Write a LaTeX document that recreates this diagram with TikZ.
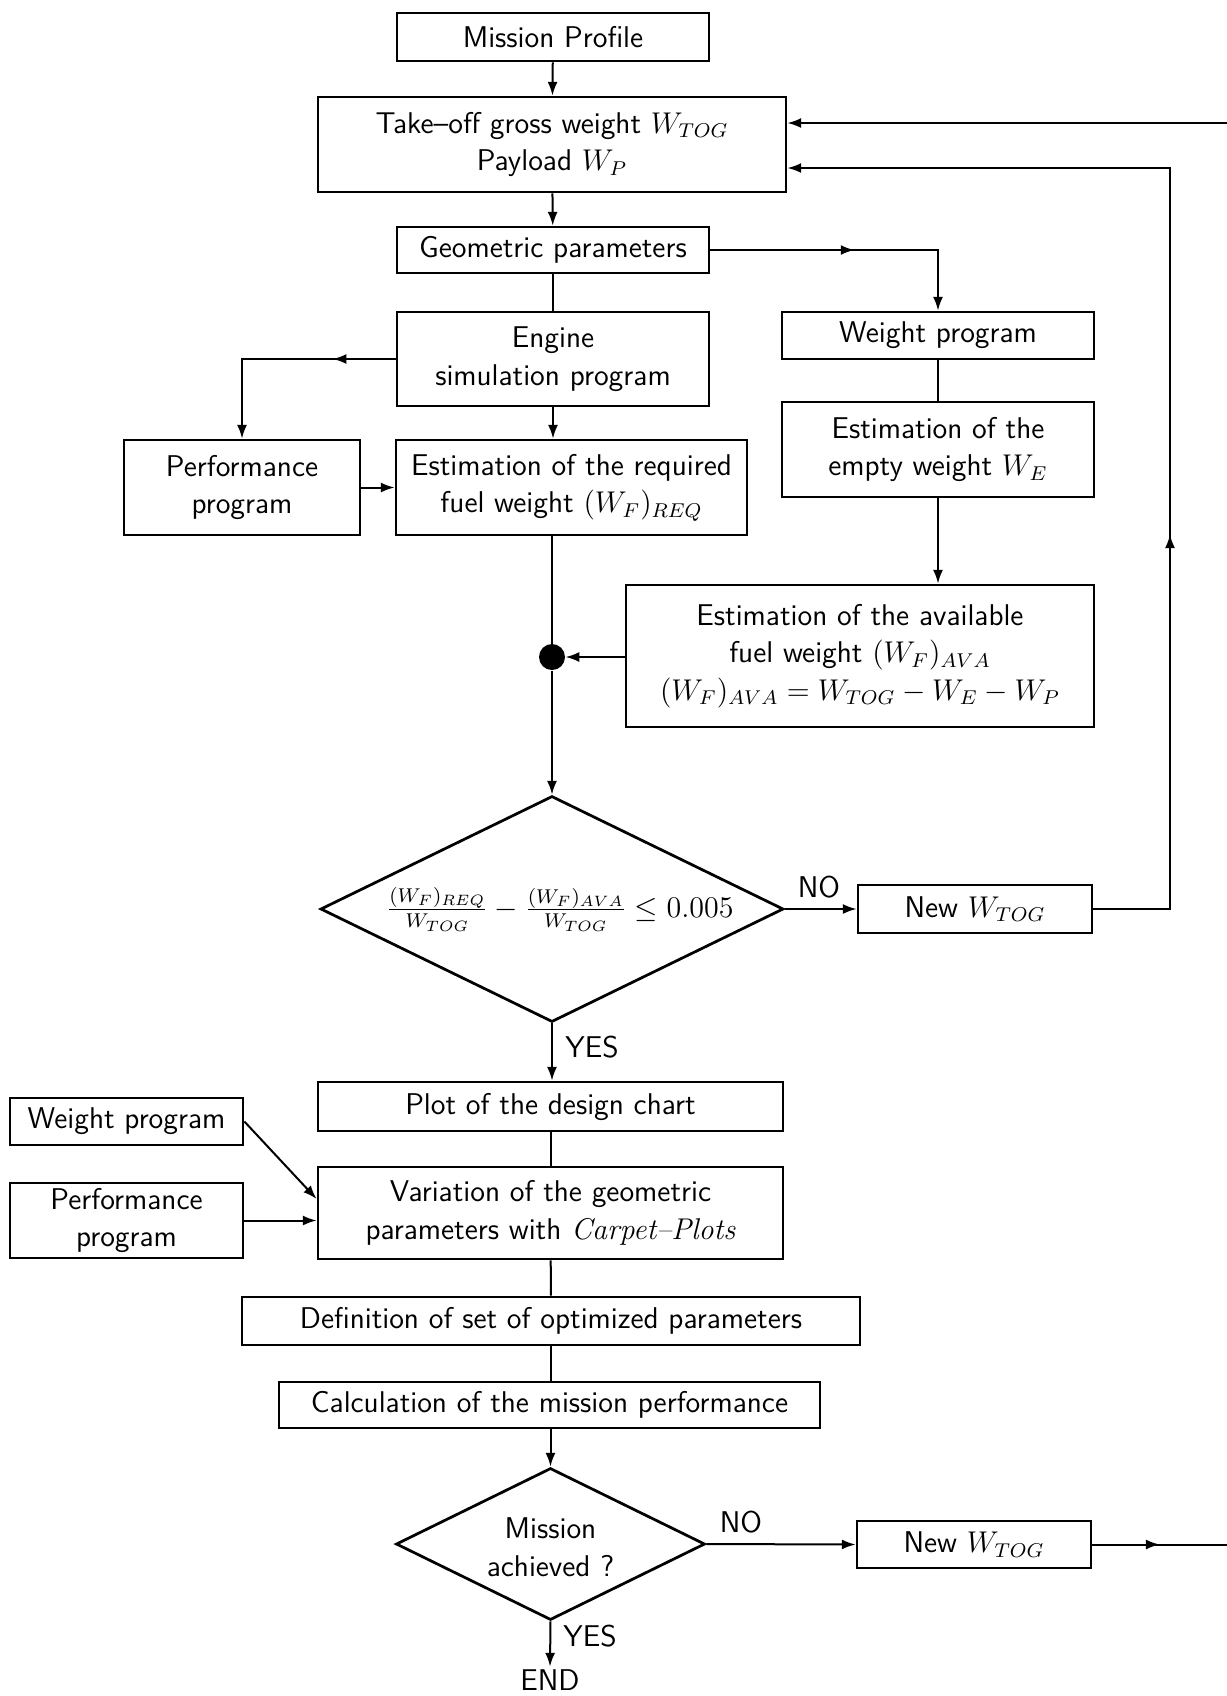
\documentclass[tikz,border=0pt]{standalone}
\usetikzlibrary{shapes.geometric,arrows.meta,decorations.markings}
\begin{document}
\begin{tikzpicture}[x=0.4pt,y=-0.4pt,
  font=\sffamily\fontsize{12}{15}\selectfont,
  box/.style={draw, line width=1.1pt, align=center, inner sep=0pt},
  conn/.style={line width=0.8pt},
  arr/.style={conn, -{Latex[length=5.5pt,width=4pt]}},
  midarrow/.style={postaction={decorate}, decoration={markings, mark=at position #1 with {\arrow{Latex[length=5.5pt,width=4pt]}}}},
  lbl/.style={inner sep=1pt}]
\useasboundingbox (0,0) rectangle (1227,1696);

% boxes
\node[box, minimum width=124.8pt, minimum height=19.2pt] (mission) at (553,37) {Mission Profile};
\node[box, minimum width=187.2pt, minimum height=38pt] (takeoff) at (552,144.5) {Take--off gross weight $W_{TOG}$\\Payload $W_P$};
\node[box, minimum width=124.8pt, minimum height=18.4pt] (geom) at (553,250) {Geometric parameters};
\node[box, minimum width=124.8pt, minimum height=37.6pt] (engine) at (553,359) {Engine\\simulation program};
\node[box, minimum width=124.8pt, minimum height=18.8pt] (weightR) at (938,335.5) {Weight program};
\node[box, minimum width=94.4pt, minimum height=38pt] (perf) at (242,487.5) {Performance\\program};
\node[box, minimum width=140.4pt, minimum height=38pt] (estreq) at (571.5,487.5) {Estimation of the required\\fuel weight $(W_F)_{REQ}$};
\node[box, minimum width=124.8pt, minimum height=38pt] (estempty) at (938,449.5) {Estimation of the\\empty weight $W_E$};
\node[box, minimum width=187.2pt, minimum height=56.8pt] (estava) at (860,656) {Estimation of the available\\fuel weight $(W_F)_{AVA}$\\$(W_F)_{AVA} = W_{TOG} - W_E - W_P$};
\node[circle, fill, inner sep=0pt, minimum size=10.4pt] (dot) at (552,657) {};

\node[diamond, draw, line width=1.1pt, inner sep=0pt, minimum width=185.2pt, minimum height=90.4pt] (d1) at (552,909) {};
\node[lbl] (d1t) at (560,909) {$\frac{(W_F)_{REQ}}{W_{TOG}} - \frac{(W_F)_{AVA}}{W_{TOG}} \le 0.005$};
\node[box, minimum width=93.6pt, minimum height=19.2pt] (new1) at (975,909) {New $W_{TOG}$};
\node[lbl] (no1) at (819,887) {NO};
\node[lbl] (yes1) at (592,1047) {YES};

\node[box, minimum width=186pt, minimum height=19.6pt] (plot) at (550.5,1106.5) {Plot of the design chart};
\node[box, minimum width=93.2pt, minimum height=18.8pt] (weightL) at (126.5,1121.5) {Weight program};
\node[box, minimum width=93.2pt, minimum height=30pt] (perf2) at (126.5,1220.5) {Performance\\program};
\node[box, minimum width=186pt, minimum height=36.8pt] (var) at (550.5,1213) {Variation of the geometric\\parameters with {\rmfamily\itshape Carpet--Plots}};
\node[box, minimum width=247.2pt, minimum height=19.2pt] (def) at (551,1321) {Definition of set of optimized parameters};
\node[box, minimum width=216.4pt, minimum height=18.4pt] (calc) at (549.5,1405) {Calculation of the mission performance};

\node[diamond, draw, line width=1.1pt, inner sep=0pt, minimum width=123.6pt, minimum height=60.8pt] (d2) at (550.5,1544) {};
\node[lbl, align=center] (d2t) at (550.5,1547) {Mission\\achieved ?};
\node[box, minimum width=93.6pt, minimum height=18.8pt] (new2) at (974,1544.5) {New $W_{TOG}$};
\node[lbl] (no2) at (741,1522) {NO};
\node[lbl] (yes2) at (590,1636) {YES};
\node[lbl] (endn) at (550,1680) {END};

\coordinate (fbturn) at (1170,168);
\coordinate (topin) at (1227,123);
\coordinate (exit) at (1227,1544.5);

% connectors
\draw[arr] (mission) -- (takeoff);
\draw[arr] (takeoff) -- (geom);
\draw[conn] (geom) -- (engine);
\draw[arr, midarrow=0.5] (geom.east) -| (weightR.north);
\draw[arr, midarrow=0.27] (engine.west) -| (perf.north);
\draw[arr] (engine) -- (engine |- estreq.north);
\draw[arr] (perf) -- (estreq);
\draw[conn] (weightR) -- (estempty);
\draw[arr] (estempty.south) -- (estempty.south |- estava.north);
\draw[conn] (estreq.south -| dot) -- (dot);
\draw[arr] (estava.west |- dot) -- (dot);
\draw[arr] (dot) -- (d1.north);
\draw[arr] (d1.east) -- (new1.west);
\draw[arr, midarrow=0.376] (new1.east) -| (fbturn) -- (takeoff.east |- fbturn);
\draw[arr] (topin) -- (takeoff.east |- topin);
\draw[arr] (d1.south) -- (d1.south |- plot.north);
\draw[conn] (plot) -- (var);
\draw[arr] (weightL.east) -- ([yshift=5.6pt]var.west);
\draw[arr] (perf2.east) -- (perf2.east -| var.west);
\draw[conn] (var) -- (def);
\draw[conn] (def) -- (def |- calc.north);
\draw[arr] (calc.south -| d2.north) -- (d2.north);
\draw[arr] (d2.east) -- (new2.west);
\draw[conn, midarrow=0.5] (new2.east) -- (exit);
\draw[arr] (d2.south) -- (endn.north);
\end{tikzpicture}
\end{document}
